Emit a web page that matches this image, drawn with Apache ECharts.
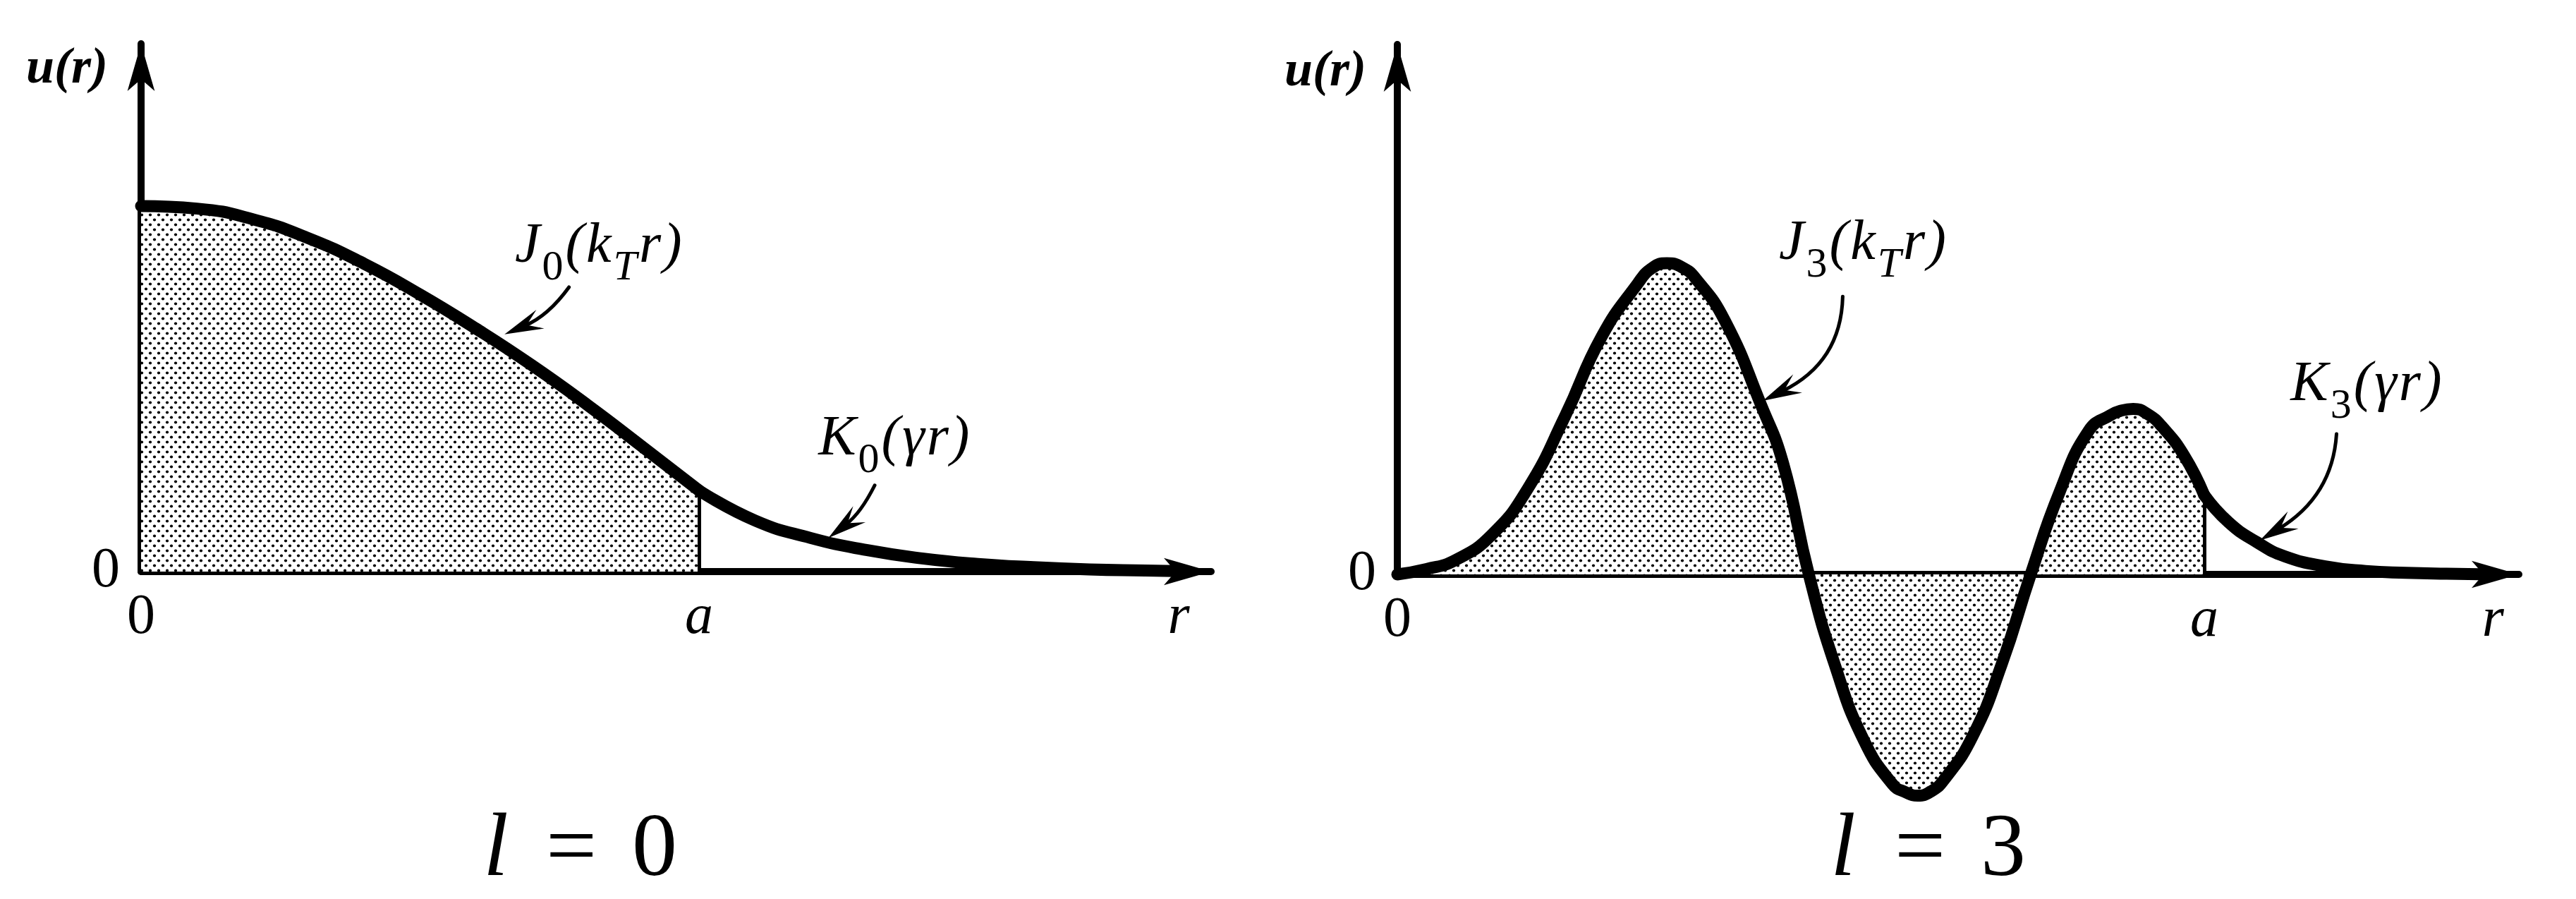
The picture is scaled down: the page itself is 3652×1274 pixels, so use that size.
<!DOCTYPE html>
<html>
<head>
<meta charset="utf-8">
<script src="https://cdn.jsdelivr.net/npm/echarts@6/dist/echarts.min.js"></script>
<style>
html,body{margin:0;padding:0;background:#fff;}
#c{width:3652px;height:1274px;}
</style>
</head>
<body>
<div id="c"></div>
<script>
// ===== Data (r in units of the radius a, u(r) in arbitrary units) =====
// l = 0 panel
const rJ0 = [0, 0.1, 0.2, 0.3, 0.4, 0.5, 0.6, 0.7, 0.8, 0.9, 1.0];
const uJ0 = [1.0, 0.993, 0.964, 0.912, 0.842, 0.758, 0.665, 0.565, 0.456, 0.340, 0.222];
const rK0 = [1.0, 1.1, 1.2, 1.3, 1.4, 1.5, 1.6, 1.7, 1.8, 1.87];
const uK0 = [0.222, 0.140, 0.092, 0.059, 0.036, 0.021, 0.012, 0.006, 0.003, 0.001];
// l = 3 panel
const rJ3 = [0, 0.036, 0.072, 0.117, 0.162, 0.208, 0.253, 0.298, 0.316, 0.334, 0.352, 0.370, 0.406, 0.451, 0.478, 0.510,
             0.542, 0.578, 0.614, 0.630, 0.645, 0.661, 0.677, 0.713, 0.749, 0.785, 0.821, 0.857, 0.884, 0.898, 0.912, 0.930, 0.948, 0.975, 1.0];
const uJ3 = [0, 0.017, 0.046, 0.127, 0.277, 0.509, 0.763, 0.935, 0.985, 1.0, 0.988, 0.950, 0.815, 0.543, 0.358, 0,
             -0.289, -0.532, -0.675, -0.700, -0.711, -0.698, -0.662, -0.520, -0.289, 0, 0.266, 0.462, 0.512, 0.527, 0.532, 0.515, 0.474, 0.382, 0.255];
const rK3 = [1.0, 1.03, 1.065, 1.1, 1.15, 1.2, 1.25, 1.3, 1.355];
const uK3 = [0.255, 0.168, 0.104, 0.058, 0.026, 0.011, 0.005, 0.002, 0.0];

// Axis tick labels
const tickTextX = ['0', 'a', 'r'];
const tickPosL = [0, 1, 1.86];
const tickPosR = [0, 1, 1.358];
const tickTextY = ['0'];
const tickPosY = [0];

// Annotation texts (pieces: [text, kind]) and their anchors in data coords
const labelJ0 = [['J','m'],['0','d'],['(','m'],['k','m'],['T','s'],['r','m'],[')','m']];
const labelK0 = [['K','m'],['0','d'],['(','m'],['\u03B3','m'],['r','m'],[')','m']];
const labelJ3 = [['J','m'],['3','d'],['(','m'],['k','m'],['T','s'],['r','m'],[')','m']];
const labelK3 = [['K','m'],['3','d'],['(','m'],['\u03B3','m'],['r','m'],[')','m']];
const annGrid  = [0, 0, 1, 1];
const annText  = [labelJ0, labelK0, labelJ3, labelK3];
const annAt    = [[0.670, 0.888], [1.214, 0.361], [0.473, 1.061], [1.107, 0.608]];
const annTail  = [[0.767, 0.778], [1.315, 0.236], [0.552, 0.893], [1.164, 0.451]];
const annCtrl  = [[0.730, 0.700], [1.290, 0.160], [0.550, 0.682], [1.159, 0.252]];
const annTip   = [[0.656, 0.652], [1.236, 0.097], [0.456, 0.562], [1.072, 0.114]];

// ===== Chart =====
const chart = echarts.init(document.getElementById('c'), null, {renderer: 'canvas'});

function dotPattern() {
  const c = document.createElement('canvas');
  c.width = 12; c.height = 14;
  const g = c.getContext('2d');
  g.fillStyle = '#fff'; g.fillRect(0, 0, 12, 14);
  g.fillStyle = '#000';
  [[3, 3.5], [9, 10.5]].forEach(function (p) {
    g.beginPath(); g.arc(p[0], p[1], 2.1, 0, Math.PI * 2); g.fill();
  });
  return c;
}
const pat = dotPattern();
function pairs(r, u) { return r.map(function (x, i) { return [x, u[i]]; }); }

const SERIF = 'Liberation Serif';
const curveStyle = {color: '#000', width: 17, cap: 'round', join: 'round'};
const axisLineStyle = {color: '#000', width: 10};
const ARROW = [29, 67];

function xAxisCfg(grid, max, ticks) {
  return {
    gridIndex: grid, type: 'value', min: 0, max: max,
    axisLine: {show: true, onZero: false, lineStyle: axisLineStyle, symbol: ['none', 'arrow'], symbolSize: ARROW},
    axisTick: {show: false}, splitLine: {show: false},
    axisLabel: {
      show: true, customValues: ticks, margin: 26, color: '#000',
      formatter: function (v) {
        let best = 0;
        ticks.forEach(function (t, i) { if (Math.abs(t - v) < Math.abs(ticks[best] - v)) best = i; });
        const s = tickTextX[best];
        return s === '0' ? '{n|' + s + '}' : '{i|' + s + '}';
      },
      rich: {
        n: {fontFamily: SERIF, fontSize: 80, fontStyle: 'normal', color: '#000'},
        i: {fontFamily: SERIF, fontSize: 80, fontStyle: 'italic', color: '#000'}
      }
    }
  };
}
function yAxisCfg(grid, max) {
  return {
    gridIndex: grid, type: 'value', min: 0, max: max,
    axisLine: {show: true, onZero: false, lineStyle: axisLineStyle, symbol: ['none', 'arrow'], symbolSize: ARROW},
    axisTick: {show: false}, splitLine: {show: false},
    axisLabel: {
      show: true, customValues: tickPosY, margin: 30, color: '#000',
      fontFamily: SERIF, fontSize: 80,
      formatter: function () { return tickTextY[0]; }
    }
  };
}
function jSeries(grid, r, u) {
  return {
    type: 'line', xAxisIndex: grid, yAxisIndex: grid, data: pairs(r, u),
    smooth: 0.5, symbol: 'none', clip: false, silent: true, z: 3,
    lineStyle: curveStyle,
    areaStyle: {color: {image: pat, repeat: 'repeat'}, opacity: 1},
    markLine: {
      silent: true, symbol: ['none', 'none'], label: {show: false},
      lineStyle: {color: '#000', width: 5, type: 'solid'},
      data: [[{coord: [1, 0]}, {coord: [1, u[u.length - 1]]}]]
    }
  };
}
function kSeries(grid, r, u) {
  return {
    type: 'line', xAxisIndex: grid, yAxisIndex: grid, data: pairs(r, u),
    smooth: 0.5, symbol: 'none', clip: false, silent: true, z: 3,
    lineStyle: curveStyle
  };
}

chart.setOption({
  animation: false,
  backgroundColor: '#fff',
  grid: [
    {left: 200, top: 62, width: 1517, height: 748},
    {left: 1981, top: 63, width: 1590, height: 751}
  ],
  xAxis: [xAxisCfg(0, 1.918, tickPosL), xAxisCfg(1, 1.390, tickPosR)],
  yAxis: [yAxisCfg(0, 1.444), yAxisCfg(1, 1.703)],
  series: [
    jSeries(0, rJ0, uJ0), kSeries(0, rK0, uK0),
    jSeries(1, rJ3, uJ3), kSeries(1, rK3, uK3)
  ]
});

// ===== Annotations (labels and leader arrows), positioned through the axes =====
const measureCtx = document.createElement('canvas').getContext('2d');
const FM = {size: 80, style: 'italic'};
const FD = {size: 60, style: 'normal'};
const FS = {size: 60, style: 'italic'};
function P(g, p) { return chart.convertToPixel({gridIndex: g}, p); }
function txt(x, y, text, f, align) {
  return {type: 'text', x: x, y: y, silent: true, z: 50,
    style: {text: text, fontFamily: SERIF, fontSize: f.size, fontStyle: f.style, fontWeight: f.weight || 'normal',
            fill: '#000', align: align || 'left', verticalAlign: 'middle',
            textAlign: align || 'left', textVerticalAlign: 'middle'}};
}
const graphics = [];
for (let k = 0; k < annText.length; k++) {
  const g = annGrid[k];
  const at = P(g, annAt[k]);
  let cx = at[0];
  annText[k].forEach(function (pc) {
    const f = pc[1] === 'm' ? FM : (pc[1] === 'd' ? FD : FS);
    measureCtx.font = f.style + ' ' + f.size + 'px "' + SERIF + '"';
    const w = measureCtx.measureText(pc[0]).width;
    const y = pc[1] === 'm' ? at[1] : at[1] + 30;
    graphics.push(txt(cx, y, pc[0], f));
    cx += w + 3;
  });
  const t0 = P(g, annTail[k]), c0 = P(g, annCtrl[k]), tp = P(g, annTip[k]);
  let dx = tp[0] - c0[0], dy = tp[1] - c0[1];
  const L = Math.hypot(dx, dy); dx /= L; dy /= L;
  const nx = -dy, ny = dx, AL = 46, AW = 24;
  const endX = tp[0] - dx * AL * 0.6, endY = tp[1] - dy * AL * 0.6;
  graphics.push({type: 'bezierCurve', silent: true, z: 50,
    shape: {x1: t0[0], y1: t0[1], x2: endX, y2: endY, cpx1: c0[0], cpy1: c0[1]},
    style: {stroke: '#000', lineWidth: 5, fill: null, lineCap: 'round'}});
  graphics.push({type: 'polygon', silent: true, z: 51,
    shape: {points: [
      [tp[0], tp[1]],
      [tp[0] - dx * AL + nx * AW / 2, tp[1] - dy * AL + ny * AW / 2],
      [tp[0] - dx * AL * 0.62, tp[1] - dy * AL * 0.62],
      [tp[0] - dx * AL - nx * AW / 2, tp[1] - dy * AL - ny * AW / 2]
    ]},
    style: {fill: '#000', stroke: '#000', lineWidth: 2}});
}
// axis names u(r)
const FU = {size: 72, style: 'italic', weight: 'bold'};
graphics.push(txt(153, 98, 'u(r)', FU, 'right'));
graphics.push(txt(1937, 102, 'u(r)', FU, 'right'));
// panel captions  l = 0 , l = 3
const CM = {size: 128, style: 'normal'}, CI = {size: 128, style: 'italic'};
graphics.push(txt(703, 1206, 'l', CI, 'center'));
graphics.push(txt(810, 1206, '=', CM, 'center'));
graphics.push(txt(928, 1206, '0', CM, 'center'));
graphics.push(txt(2613, 1206, 'l', CI, 'center'));
graphics.push(txt(2722, 1206, '=', CM, 'center'));
graphics.push(txt(2840, 1206, '3', CM, 'center'));

chart.setOption({graphic: graphics});
</script>
</body>
</html>
